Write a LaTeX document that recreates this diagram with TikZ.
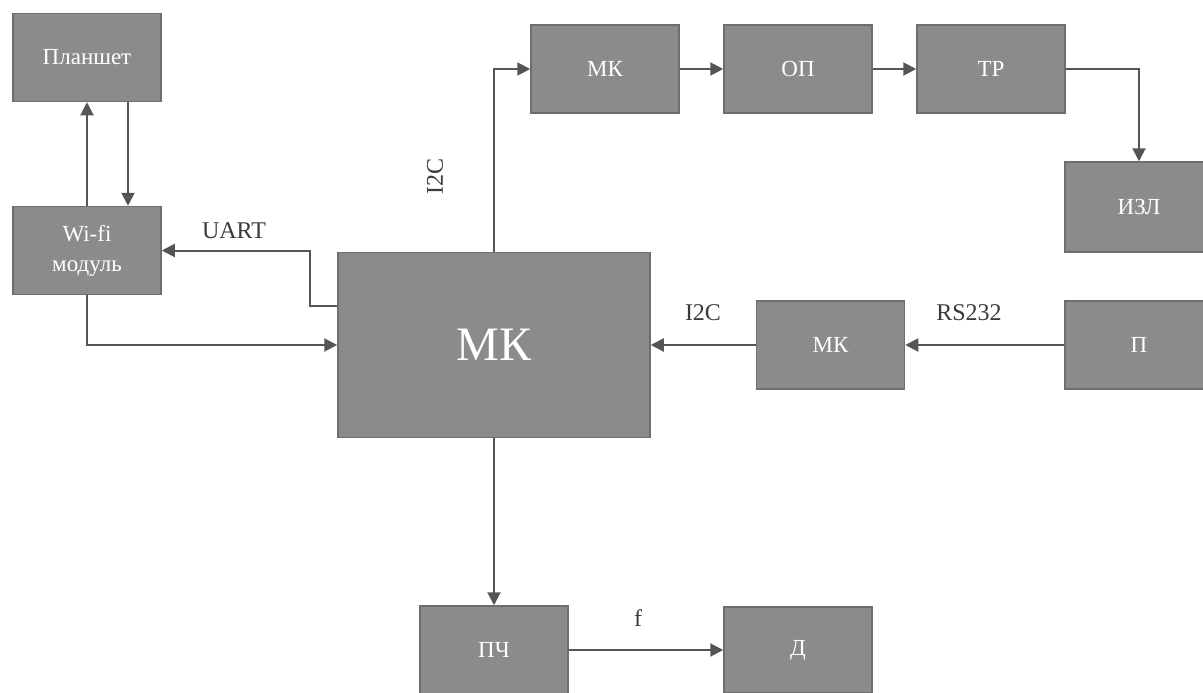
\documentclass[tikz,border=0pt]{standalone}
\usepackage{fontspec}
\setmainfont{Liberation Serif}
\usetikzlibrary{arrows.meta}
\definecolor{boxfill}{HTML}{8B8B8B}
\definecolor{boxedge}{HTML}{6E6E6E}
\definecolor{linecol}{HTML}{555555}
\definecolor{labcol}{HTML}{3A3A3A}
\tikzset{
  blk/.style={draw=boxedge, fill=boxfill, line width=1.5pt, rectangle,
    minimum width=148pt, minimum height=88pt, inner sep=0pt,
    text=white, font=\fontsize{23}{30}\selectfont, align=center},
  arr/.style={draw=linecol, line width=2pt,
    -{Triangle[length=13pt,width=13pt]}},
  lab/.style={text=labcol, font=\fontsize{24}{28}\selectfont, inner sep=0pt}
}
\begin{document}
\begin{tikzpicture}[x=1pt,y=-1pt]
\clip (0,0) rectangle (1203,693);
\fill[white] (0,0) rectangle (1203,693);
% blocks
\node[blk] (plan) at (87,57.5) {Планшет};
\node[blk] (wifi) at (87,250.5) {Wi-fi\\модуль};
\node[blk, minimum width=312pt, minimum height=185pt, font=\fontsize{48}{54}\selectfont] (main) at (494,345) {МК};
\node[blk] (mk1) at (605,69) {МК};
\node[blk] (op) at (798,69) {ОП};
\node[blk] (tr) at (991,69) {ТР};
\node[blk, minimum height=90pt] (izl) at (1139,207) {ИЗЛ};
\node[blk] (p) at (1139,345) {П};
\node[blk] (mk2) at (830.5,345) {МК};
\node[blk] (pch) at (494,650) {ПЧ};
\node[blk, minimum height=86pt] (d) at (798,650) {Д};
% connectors
\draw[arr] (wifi.north) -- (plan.south);
\draw[arr] ([xshift=41pt]plan.south) -- ([xshift=41pt]wifi.north);
\coordinate (uartbend) at (310,250.5);
\draw[arr] (main.west |- 0,306) -| (uartbend) -- (wifi.east);
\draw[arr] (wifi.south) |- (main.west);
\draw[arr] (main.north) |- (mk1.west);
\draw[arr] (mk1.east) -- (op.west);
\draw[arr] (op.east) -- (tr.west);
\draw[arr] (tr.east) -| (izl.north);
\draw[arr] (p.west) -- (mk2.east);
\draw[arr] (mk2.west) -- (main.east);
\draw[arr] (main.south) -- (pch.north);
\draw[arr] (pch.east) -- (d.west);
% labels
\node[lab] (luart) at (234,231) {UART};
\node[lab, rotate=90] (li2cv) at (435,176) {I2C};
\node[lab] (li2ch) at (703,313) {I2C};
\node[lab] (lrs) at (969,313) {RS232};
\node[lab] (lf) at (638,618) {f};
\end{tikzpicture}
\end{document}
